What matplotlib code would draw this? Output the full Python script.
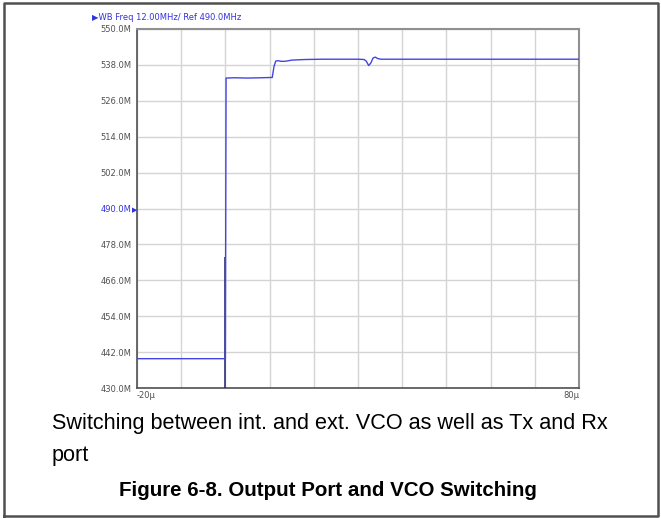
import matplotlib.pyplot as plt

time_us = [-20, -10, -0.1, 0.0, 0.15, 2, 5, 8, 10.6, 11.0, 11.4, 11.9, 12.6, 13.5,
           15.0, 18.0, 22.0, 26.0, 30.0, 31.4, 31.9, 32.4, 32.9, 33.4, 33.9, 34.5, 35.2,
           40, 50, 60, 70, 80]
freq_mhz = [439.8, 439.8, 439.8, 439.8, 533.6, 533.7, 533.6, 533.7, 533.8, 537.5, 539.3,
            539.4, 539.2, 539.2, 539.6, 539.8, 539.9, 539.9, 539.9, 539.8, 539.2, 537.8,
            538.6, 540.3, 540.6, 540.1, 539.9, 539.9, 539.9, 539.9, 539.9, 539.9]
trigger_top = 473.8  # dark marker line at t=0

y_ticks = [430 + 12 * i for i in range(11)]
y_labels = [f'{v:.1f}M' for v in y_ticks]
x_ticks = [-20 + 10 * i for i in range(11)]

W, H = 661, 518
fig = plt.figure(figsize=(W / 100, H / 100), dpi=100)

# outer frame of the figure
frame = fig.add_axes([0, 0, 1, 1])
frame.set_xlim(0, W)
frame.set_ylim(H, 0)
frame.axis('off')
frame.plot([4, 4, 658, 658, 4], [516, 2.5, 2.5, 516, 516], color='#505050', lw=1.8)

ax = fig.add_axes([137 / W, (H - 388) / H, 442 / W, 359 / H])
ax.set_xlim(-20, 80)
ax.set_ylim(430, 550)
ax.set_xticks(x_ticks)
ax.set_yticks(y_ticks)
ax.grid(True, color='#d4d4d4', lw=1)
ax.tick_params(length=0, labelsize=6, colors='#505050', pad=4)
ax.set_yticklabels(y_labels)
ax.set_xticklabels([])
ax.get_yticklabels()[5].set_color('#3333dd')
for s in ['left', 'bottom']:
    ax.spines[s].set_color('#505050')
    ax.spines[s].set_linewidth(1.2)
for s in ['top', 'right']:
    ax.spines[s].set_color('#909090')
    ax.spines[s].set_linewidth(1.5)

ax.vlines(0, 430, trigger_top, color='#202070', lw=1.1, zorder=3)
ax.plot(time_us, freq_mhz, color='#4444e6', lw=1.0, zorder=4)

ax.text(-20, 429, '-20\u00b5', fontsize=6, color='#505050', ha='left', va='top')
ax.text(80, 429, '80\u00b5', fontsize=6, color='#505050', ha='right', va='top')
fig.text(131.5 / W, 1 - 210 / H, '\u25b6', fontsize=5, color='#3333dd', va='center', ha='left')
fig.text(92 / W, 1 - 18 / H, '\u25b6WB Freq 12.00MHz/ Ref 490.0MHz', fontsize=6,
         color='#3333dd', va='center', ha='left')

fig.text(52 / W, 1 - 423 / H, 'Switching between int. and ext. VCO as well as Tx and Rx',
         fontsize=15.6, family='Liberation Sans', va='center', ha='left')
fig.text(52 / W, 1 - 456 / H, 'port', fontsize=15.6, family='Liberation Sans',
         va='center', ha='left')
fig.text(328 / W, 1 - 490 / H, 'Figure 6-8. Output Port and VCO Switching', fontsize=14.8,
         family='Liberation Sans', weight='bold', va='center', ha='center')

fig.savefig('out.png', dpi=100)
